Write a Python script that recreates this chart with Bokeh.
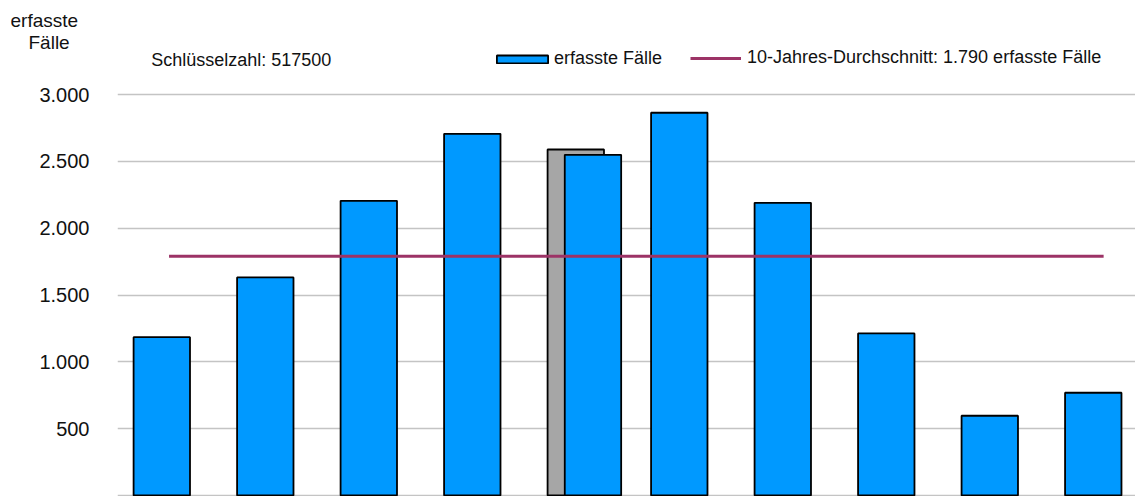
import numpy as np
from bokeh.plotting import figure
from bokeh.models import Range1d, FixedTicker, Legend, LegendItem, Label, ColumnDataSource, Title
from bokeh.embed import file_html
from bokeh.resources import INLINE

# ---- data ----
faelle = [1185, 1632, 2206, 2707, 2550, 2865, 2191, 1213, 597, 769]
vergleich = [None, None, None, None, 2590, None, None, None, None, None]
durchschnitt = 1790
schluesselzahl = "517500"
y_ticks = [0, 500, 1000, 1500, 2000, 2500, 3000]
y_titel = ["erfasste", "Fälle"]

def de(n):
    return f"{n:,}".replace(",", ".")

# ---- style ----
BLUE = "#0099FF"
GREY = "#A6A6A6"
PLUM = "#9C3366"
FONT = "Liberation Sans"
BAR_W = 0.545
SHIFT = 0.166
PAD_L, PAD_R = 0.07, 0.10
S1, S2 = 15, -17                      # title standoffs
TOP_PANEL = (23 + S1) + (23 + S2)     # height of the two title rows
PX_PER_UNIT = 0.1336

p = figure(width=1135, height=496, output_backend="svg", toolbar_location=None,
           x_range=Range1d(-0.428, 9.408),
           y_range=Range1d(-7.5, (495 - TOP_PANEL) / PX_PER_UNIT),
           x_axis_location=None, min_border_left=117, min_border_right=0,
           min_border_top=0, min_border_bottom=0, outline_line_color=None,
           background_fill_color="white", border_fill_color="white")

idx = np.arange(len(faelle))
has_cmp = np.array([v is not None for v in vergleich])
blue_src = ColumnDataSource(dict(x=idx + np.where(has_cmp, SHIFT, 0.0), top=faelle))
grey_src = ColumnDataSource(dict(x=idx[has_cmp], top=[v for v in vergleich if v is not None]))

p.vbar(x="x", top="top", bottom=0, width=BAR_W, source=grey_src,
       fill_color=GREY, line_color="black", line_width=1.8)
bars = p.vbar(x="x", top="top", bottom=0, width=BAR_W, source=blue_src,
              fill_color=BLUE, line_color="black", line_width=1.8)
avg_line = p.line(x=[idx[0] + PAD_L, idx[-1] + PAD_R], y=[durchschnitt, durchschnitt],
                  line_color=PLUM, line_width=3)

p.xgrid.visible = False
p.yaxis.ticker = FixedTicker(ticks=y_ticks)
p.yaxis.major_label_overrides = {t: (de(t) if t > 0 else "") for t in y_ticks}
p.yaxis.axis_line_color = None
p.yaxis.major_tick_line_color = None
p.yaxis.minor_tick_line_color = None
p.yaxis.major_tick_out = 0
p.yaxis.major_label_standoff = 28
p.yaxis.major_label_text_font = FONT
p.yaxis.major_label_text_font_size = "20px"
p.yaxis.major_label_text_color = "#111111"
p.ygrid.grid_line_color = "#C4C4C4"
p.ygrid.grid_line_width = 1.3

# y-axis title: two single-line titles in the top panel (inner row added first)
p.add_layout(Title(text=y_titel[1], align="left", offset=-89, standoff=S2,
                   vertical_align="bottom", text_font=FONT, text_font_size="19px",
                   text_font_style="normal", text_color="#111111"), "above")
p.add_layout(Title(text=y_titel[0], align="left", offset=-107, standoff=S1,
                   vertical_align="bottom", text_font=FONT, text_font_size="19px",
                   text_font_style="normal", text_color="#111111"), "above")

p.add_layout(Label(x=-0.102, y=3263, text=f"Schlüsselzahl: {schluesselzahl}",
                   text_align="left", text_baseline="middle", text_font=FONT,
                   text_font_size="18px", text_color="#111111"))

def mk_legend(items, loc, gw, gh, standoff):
    return Legend(items=items, location=loc, orientation="horizontal",
                  glyph_width=gw, glyph_height=gh, label_standoff=standoff,
                  label_height=20, padding=0, margin=0, spacing=0,
                  border_line_color=None, background_fill_alpha=0,
                  label_text_font=FONT, label_text_font_size="18px",
                  label_text_color="#111111")

p.add_layout(mk_legend([LegendItem(label="erfasste Fälle", renderers=[bars])],
                       (373, 427), 64, 10, 0), "center")
p.add_layout(mk_legend([LegendItem(label=f"10-Jahres-Durchschnitt: {de(durchschnitt)} erfasste Fälle",
                                   renderers=[avg_line])],
                       (573, 428), 51, 20, 6), "center")

open("out.html", "w").write(file_html(p, INLINE))
